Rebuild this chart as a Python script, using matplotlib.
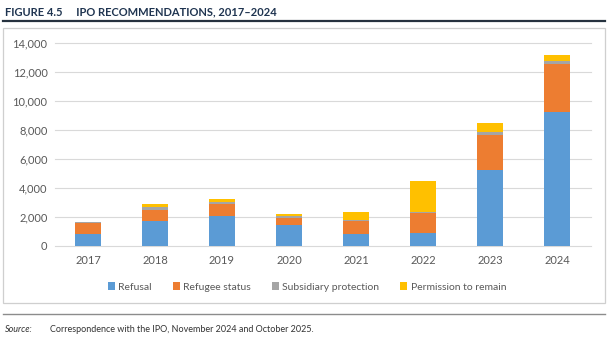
import matplotlib
matplotlib.use('Agg')
import matplotlib.pyplot as plt
from matplotlib.patches import Rectangle
from matplotlib.lines import Line2D

plt.rcParams['font.family'] = ['Lato', 'DejaVu Sans']

# ---------------------------------------------------------
# Data
# ---------------------------------------------------------
years = ["2017", "2018", "2019", "2020", "2021", "2022", "2023", "2024"]
refusal = [830, 1720, 2080, 1400, 780, 880, 5200, 9250]
refugee_status = [740, 740, 770, 490, 900, 1350, 2420, 3300]
subsidiary = [40, 190, 180, 140, 60, 60, 230, 200]
permission = [30, 220, 210, 170, 580, 2170, 620, 430]

series = [
    ("Refusal", refusal, "#5B9BD5"),
    ("Refugee status", refugee_status, "#ED7D31"),
    ("Subsidiary protection", subsidiary, "#A5A5A5"),
    ("Permission to remain", permission, "#FFC000"),
]

yticks = [0, 2000, 4000, 6000, 8000, 10000, 12000, 14000]

W, H = 614, 343
fig = plt.figure(figsize=(W / 100, H / 100), dpi=100)

# title + heavy rule
fig.text(5 / W, 1 - 12 / H, "FIGURE 4.5     IPO RECOMMENDATIONS, 2017\u20132024",
         fontsize=8, fontweight="bold", color="#1F3450", va="center", ha="left")
fig.add_artist(Line2D([3 / W, 605 / W], [1 - 21 / H, 1 - 21 / H],
                      color="#26323F", linewidth=1.6))

# chart frame
fig.add_artist(Rectangle((3 / W, 1 - 303 / H), 602 / W, 275 / H,
                         fill=False, edgecolor="#CFCFCF", linewidth=0.9))

# plot area
ax = fig.add_axes([54.5 / W, 1 - 245.7 / H, 536 / W, 203 / H])

x = list(range(len(years)))
bottom = [0] * len(years)
for name, vals, col in series:
    ax.bar(x, vals, width=0.39, bottom=bottom, color=col, label=name,
           zorder=3)
    bottom = [b + v for b, v in zip(bottom, vals)]

ax.set_xlim(-0.5, len(years) - 0.5)
ax.set_ylim(0, 14000)
ax.set_yticks(yticks)
ax.set_yticklabels([f"{v:,}" for v in yticks])
ax.set_xticks(x)
ax.set_xticklabels(years)
ax.tick_params(axis="both", length=0, labelsize=8, labelcolor="#595959")
ax.tick_params(axis="y", pad=5)
ax.tick_params(axis="x", pad=7)
ax.grid(axis="y", color="#D9D9D9", linewidth=0.8, zorder=0)
ax.set_axisbelow(True)
for gl in ax.get_ygridlines():
    gl.set_clip_on(False)
for s in ax.spines.values():
    s.set_visible(False)

fig.legend(loc="center", bbox_to_anchor=(0.5, 1 - 287 / H), ncol=4,
           frameon=False, fontsize=7.5, handlelength=0.7, handleheight=0.7,
           handletextpad=0.3, columnspacing=2.0, labelcolor="#595959")

# source
fig.add_artist(Line2D([3 / W, 605 / W], [1 - 314 / H, 1 - 314 / H],
                      color="#8C8C8C", linewidth=1.0))
fig.text(5 / W, 1 - 330 / H, "Source:", fontsize=6.5, style="italic",
         color="#333333", va="center")
fig.text(50 / W, 1 - 330 / H,
         "Correspondence with the IPO, November 2024 and October 2025.",
         fontsize=6.5, color="#333333", va="center")

fig.savefig("out.png", dpi=100, facecolor="white")
